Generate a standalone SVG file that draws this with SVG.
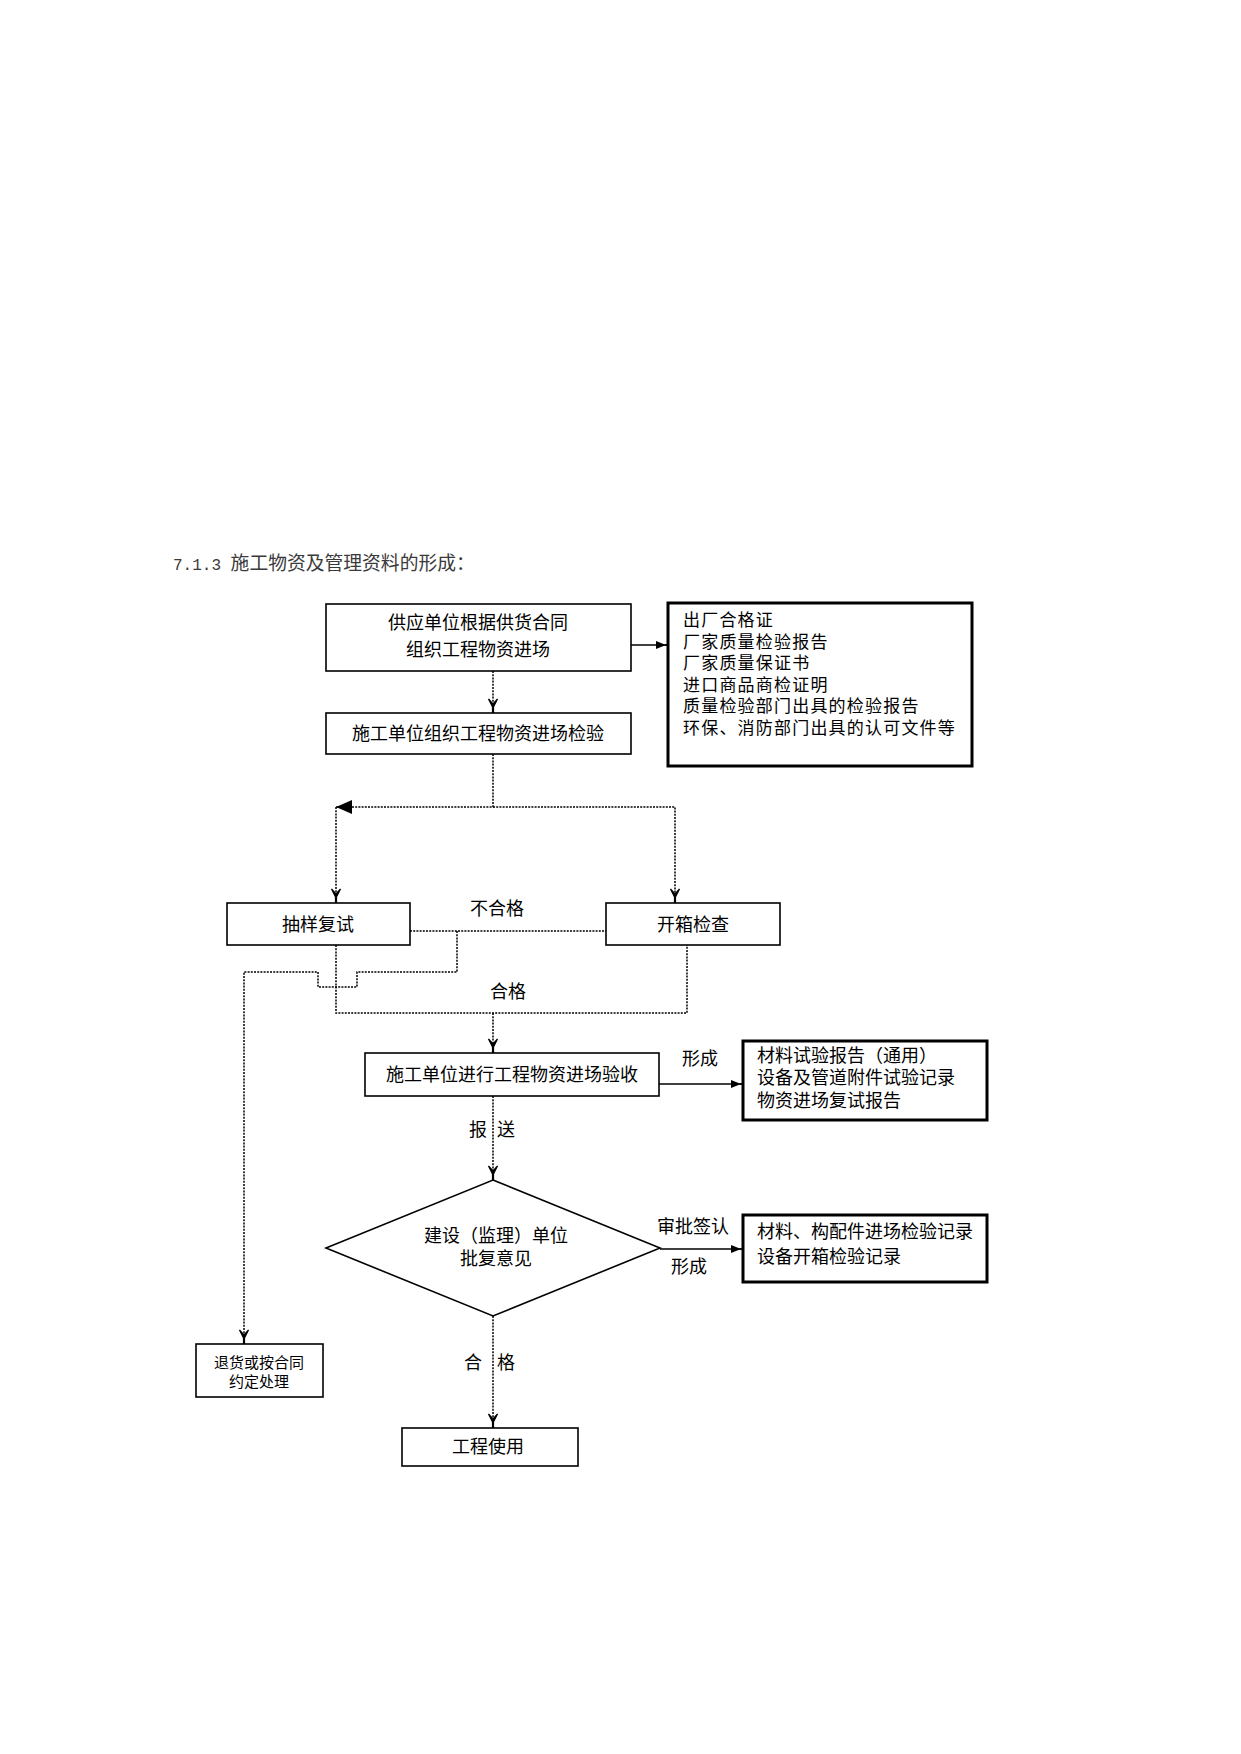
<svg xmlns="http://www.w3.org/2000/svg" width="1241" height="1754" viewBox="0 0 1241 1754">
<style>
.t{font-family:"Noto Sans CJK SC","Noto Sans CJK JP",sans-serif;font-size:18px;fill:#000}
.c{text-anchor:middle}
.s{font-size:17px;letter-spacing:1.2px}
.box{fill:#fff;stroke:#000;stroke-width:1.6}
.boxb{fill:#fff;stroke:#000;stroke-width:3}
.dot{fill:none;stroke:#000;stroke-width:1.5;stroke-dasharray:2 1.2}
.sol{fill:none;stroke:#000;stroke-width:1.5}
</style>
<defs>
<marker id="arrY" markerUnits="userSpaceOnUse" viewBox="-15 -7 16 14" refX="0" refY="0" markerWidth="16" markerHeight="14" orient="auto">
<path d="M-14,-4.5 L-5,0 L-14,4.5 L-9,0 Z" fill="#000" stroke="#000" stroke-width="1.2"/>
<path d="M-6,0 L0,0" stroke="#000" stroke-width="2.2"/>
</marker>
<marker id="arrF" markerUnits="userSpaceOnUse" viewBox="-13 -6 14 12" refX="0" refY="0" markerWidth="14" markerHeight="12" orient="auto">
<path d="M-12,-4 L-2,0 L-12,4 Z" fill="#000"/>
<path d="M-3,0 L0,0" stroke="#000" stroke-width="1.5"/>
</marker>
<marker id="arrL" markerUnits="userSpaceOnUse" viewBox="-17 -8 18 16" refX="0" refY="0" markerWidth="18" markerHeight="16" orient="auto">
<path d="M-16,-7 L0,0 L-16,7 Z" fill="#000"/>
</marker>
</defs>
<rect width="1241" height="1754" fill="#fff"/>
<text x="173" y="570" style="font-size:18.8px;fill:#3a3a3a"><tspan style="font-family:'Liberation Mono',monospace;font-size:16px">7.1.3 </tspan><tspan style="font-family:'Noto Sans CJK SC',sans-serif">施工物资及管理资料的形成：</tspan></text>

<g id="connectors">
<path class="dot" d="M493,671 V713" marker-end="url(#arrY)"/>
<path class="dot" d="M493,754 V807 H336" marker-end="url(#arrL)"/>
<path class="dot" d="M336,807 V903" marker-end="url(#arrY)"/>
<path class="dot" d="M493,807 H675 V903" marker-end="url(#arrY)"/>
<path class="dot" d="M410,931 H606"/>
<path class="dot" d="M457,931 V972 H357 V987 H318 V972 H244 V1344" marker-end="url(#arrY)"/>
<path class="dot" d="M336,945 V1013 H687 V945"/>
<path class="dot" d="M493,1013 V1053" marker-end="url(#arrY)"/>
<path class="dot" d="M493,1096 V1180" marker-end="url(#arrY)"/>
<path class="dot" d="M493,1316 V1428" marker-end="url(#arrY)"/>
<path class="sol" d="M631,645 H668" marker-end="url(#arrF)"/>
<path class="sol" d="M659,1084 H743" marker-end="url(#arrF)"/>
<path class="sol" d="M660,1249 H743" marker-end="url(#arrF)"/>
<text class="t c" x="497" y="915">不合格</text>
<text class="t c" x="508" y="998">合格</text>
<text class="t c" x="700" y="1065">形成</text>
<text class="t c" x="478" y="1136">报</text>
<text class="t c" x="506" y="1136">送</text>
<text class="t c" x="693" y="1233">审批签认</text>
<text class="t c" x="689" y="1273">形成</text>
<text class="t c" x="473" y="1369">合</text>
<text class="t c" x="506" y="1369">格</text>
</g>

<g id="n1">
<rect class="box" x="326" y="604" width="305" height="67"/>
<text class="t c" x="478" y="629">供应单位根据供货合同</text>
<text class="t c" x="478" y="656">组织工程物资进场</text>
</g>
<g id="n2">
<rect class="boxb" x="668" y="603" width="304" height="163"/>
<text class="t s" x="683" y="626">出厂合格证</text>
<text class="t s" x="683" y="647.5">厂家质量检验报告</text>
<text class="t s" x="683" y="669">厂家质量保证书</text>
<text class="t s" x="683" y="690.5">进口商品商检证明</text>
<text class="t s" x="683" y="712">质量检验部门出具的检验报告</text>
<text class="t s" x="683" y="733.5">环保、消防部门出具的认可文件等</text>
</g>
<g id="n3">
<rect class="box" x="326" y="713" width="305" height="41"/>
<text class="t c" x="478" y="740">施工单位组织工程物资进场检验</text>
</g>
<g id="n4">
<rect class="box" x="227" y="903" width="183" height="42"/>
<text class="t c" x="318" y="931">抽样复试</text>
</g>
<g id="n5">
<rect class="box" x="606" y="903" width="174" height="42"/>
<text class="t c" x="693" y="931">开箱检查</text>
</g>
<g id="n6">
<rect class="box" x="365" y="1053" width="294" height="43"/>
<text class="t c" x="512" y="1081">施工单位进行工程物资进场验收</text>
</g>
<g id="n7">
<rect class="boxb" x="743" y="1041" width="244" height="79"/>
<text class="t" x="757" y="1061.5">材料试验报告（通用）</text>
<text class="t" x="757" y="1084">设备及管道附件试验记录</text>
<text class="t" x="757" y="1106.5">物资进场复试报告</text>
</g>
<g id="n8">
<polygon class="box" points="493,1180 660,1248 493,1316 326,1248"/>
<text class="t c" x="496" y="1241.5">建设（监理）单位</text>
<text class="t c" x="496" y="1264.5">批复意见</text>
</g>
<g id="n9">
<rect class="boxb" x="743" y="1215" width="244" height="67"/>
<text class="t" x="757" y="1238">材料、构配件进场检验记录</text>
<text class="t" x="757" y="1263">设备开箱检验记录</text>
</g>
<g id="n10">
<rect class="box" x="196" y="1344" width="127" height="53"/>
<text class="t c" x="259" y="1368" style="font-size:15px">退货或按合同</text>
<text class="t c" x="259" y="1387" style="font-size:15px">约定处理</text>
</g>
<g id="n11">
<rect class="box" x="402" y="1428" width="176" height="38"/>
<text class="t c" x="488" y="1453">工程使用</text>
</g>
</svg>
